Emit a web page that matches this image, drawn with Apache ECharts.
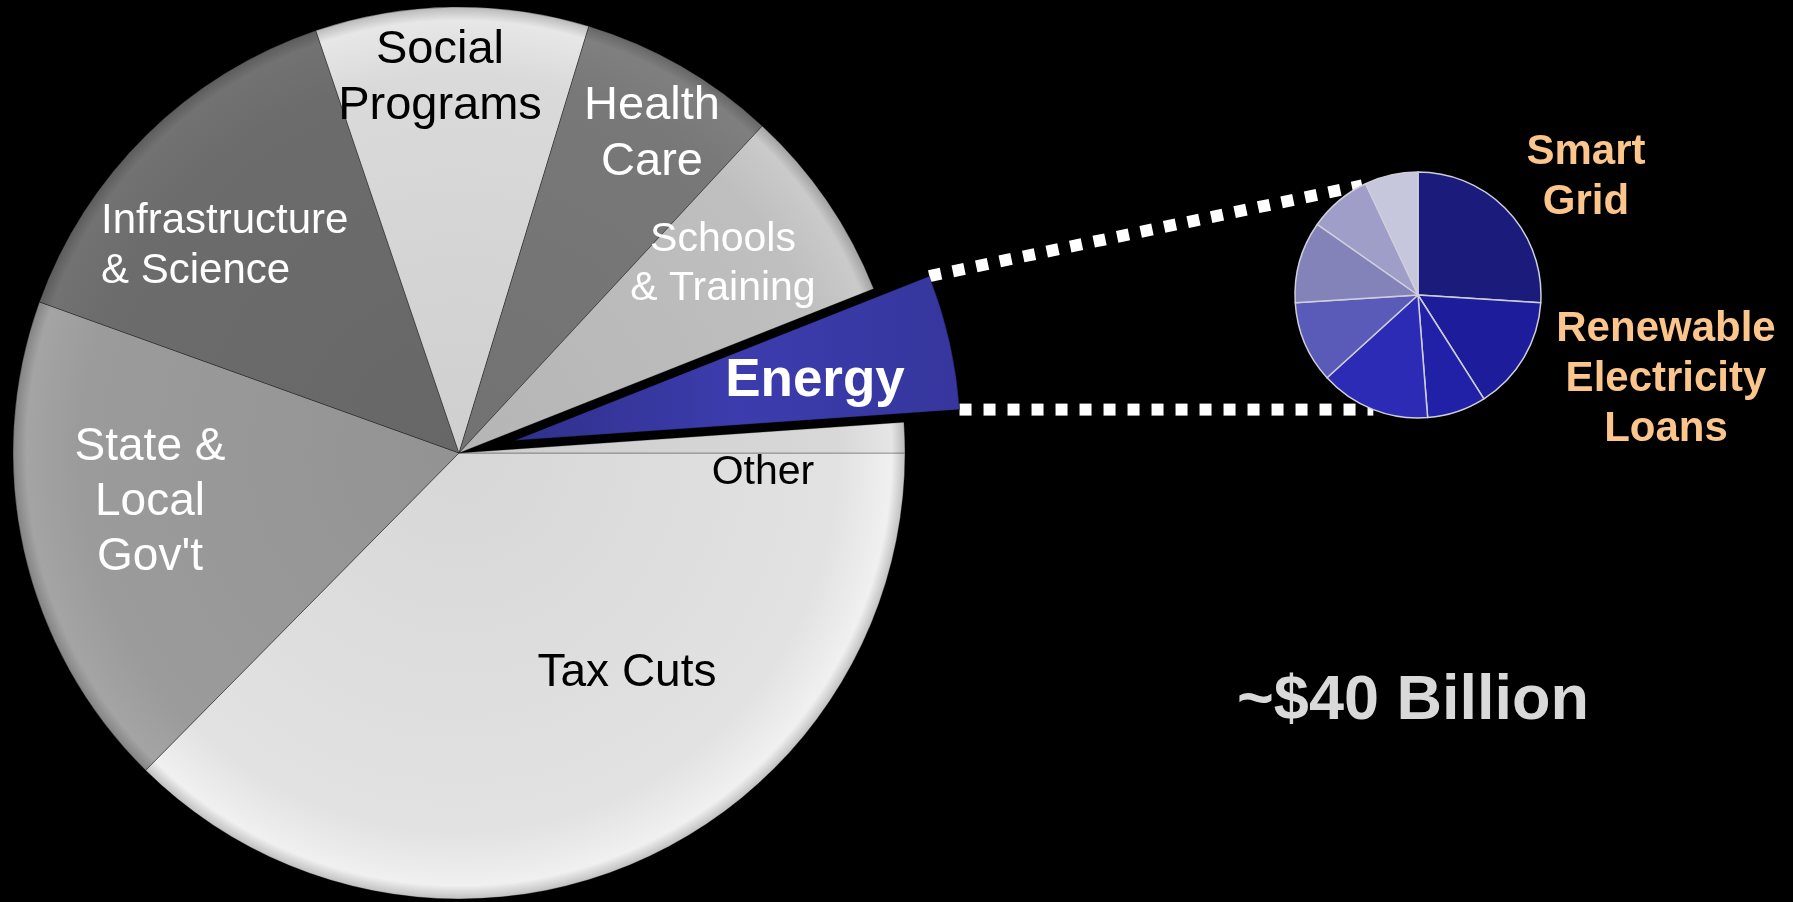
<!DOCTYPE html>
<html>
<head>
<meta charset="utf-8">
<script src="https://cdn.jsdelivr.net/npm/echarts@6/dist/echarts.min.js"></script>
<style>
  html, body { margin: 0; padding: 0; background: #000; }
  #chart { width: 1793px; height: 902px; }
</style>
</head>
<body>
<div id="chart"></div>
<script>
// main pie: share of the package (percent)
const mainNames = ['Tax Cuts', "State &\nLocal\nGov't", 'Infrastructure\n& Science', 'Social\nPrograms',
  'Health\nCare', 'Schools\n& Training', 'Energy', 'Other'];
const mainValues = [37.4, 18.1, 14.3, 9.9, 7.2, 7.1, 4.9, 1.1];

// energy breakdown (~$40 billion), clockwise from 12 o'clock
const energyNames = ['Smart\nGrid', 'Renewable\nElectricity\nLoans', 'Energy 3', 'Energy 4',
  'Energy 5', 'Energy 6', 'Energy 7', 'Energy 8'];
const energyValues = [10.4, 6.0, 3.1, 5.8, 4.3, 4.3, 3.3, 2.8];
const totalText = '~$40 Billion';

// styling
const mainColors = ['#e2e2e2', '#9b9b9b', '#6c6c6c', '#dadada', '#787878', '#bfbfbf', '#3c3cae', '#d8d8d8'];
const mainLabelColors = ['#000', '#fff', '#fff', '#000', '#fff', '#fff', '#fff', '#000'];
const mainLabelSizes = [46, 46, 42, 47, 47, 41, 53, 41];
const energyColors = ['#1b1b7c', '#1d1d9c', '#2121a8', '#2b2bb6', '#5a5ab8', '#8383ba', '#9e9ec8', '#c6c6dc'];

// label anchor points (px) and alignment
const mainLabelPos = [
  [627, 673, 'center'], [150, 502, 'center'], [101, 246, 'left'], [440, 78, 'center'],
  [652, 134, 'center'], [723, 264, 'center'], [815, 381, 'center'], [763, 473, 'center']
];
const energyLabelPos = [[1586, 177], [1666, 379]];

const C1 = [459, 453], R1 = 446, OFFSET = 57;
const C2 = [1418, 295], R2 = 123;
const FONT = "'Liberation Sans', Arial, sans-serif";

function shade(hex, f) {
  const n = parseInt(hex.slice(1), 16);
  const r = Math.round(((n >> 16) & 255) * f), g = Math.round(((n >> 8) & 255) * f), b = Math.round((n & 255) * f);
  return 'rgb(' + Math.min(r, 255) + ',' + Math.min(g, 255) + ',' + Math.min(b, 255) + ')';
}

const energyIdx = mainNames.indexOf('Energy');
const mainData = mainNames.map((name, i) => {
  const c = mainColors[i];
  const color = i === energyIdx
    ? { type: 'linear', x: 0, y: 0, x2: 1, y2: 0, colorStops: [{ offset: 0, color: shade(c, 0.8) }, { offset: 0.5, color: c }, { offset: 1, color: shade(c, 0.9) }] }
    : { type: 'radial', x: C1[0], y: C1[1], r: R1, global: true,
        colorStops: [{ offset: 0, color: shade(c, 0.95) }, { offset: 0.85, color: c }, { offset: 0.97, color: shade(c, 1.06) }, { offset: 1, color: shade(c, 0.85) }] };
  return {
    name: name,
    value: mainValues[i],
    selected: i === energyIdx,
    itemStyle: { color: color },
    // the exploded (selected) slice keeps its own label spot, so its label is drawn as a graphic below
    label: {
      show: i !== energyIdx,
      color: mainLabelColors[i],
      fontSize: mainLabelSizes[i],
      lineHeight: Math.round(mainLabelSizes[i] * 1.2)
    }
  };
});

const energyData = energyNames.map((name, i) => ({
  name: name,
  value: energyValues[i],
  itemStyle: { color: energyColors[i] },
  label: { show: i < energyLabelPos.length }
}));

// dotted connector geometry, derived from the main pie's data
const total = mainValues.reduce((a, b) => a + b, 0);
const before = mainValues.slice(0, energyIdx).reduce((a, b) => a + b, 0);
const a0 = before / total * 2 * Math.PI;
const a1 = (before + mainValues[energyIdx]) / total * 2 * Math.PI;
const am = (a0 + a1) / 2;
const ec = [C1[0] + OFFSET * Math.cos(am), C1[1] + OFFSET * Math.sin(am)];
const topStart = [ec[0] + R1 * Math.cos(a0), ec[1] + R1 * Math.sin(a0)];
const botStart = [ec[0] + R1 * Math.cos(a1), ec[1] + R1 * Math.sin(a1)];
const topAng = 243 / 180 * Math.PI;
const topEnd = [C2[0] + R2 * Math.cos(topAng), C2[1] + R2 * Math.sin(topAng)];
const dy = botStart[1] - C2[1];
const botEnd = [C2[0] - Math.sqrt(Math.max(R2 * R2 - dy * dy, 0)), botStart[1]];

const dotStyle = { stroke: '#fff', lineWidth: 12, lineDash: [12, 12], lineCap: 'butt' };
const ePos = mainLabelPos[energyIdx];

const chart = echarts.init(document.getElementById('chart'));
chart.setOption({
  backgroundColor: '#000',
  animation: false,
  graphic: [
    { type: 'line', z: 1, shape: { x1: topStart[0], y1: topStart[1], x2: topEnd[0], y2: topEnd[1] }, style: dotStyle },
    { type: 'line', z: 1, shape: { x1: botStart[0], y1: botStart[1], x2: botEnd[0], y2: botEnd[1] }, style: dotStyle },
    {
      type: 'text', x: ePos[0], y: ePos[1], z: 10,
      style: { text: mainNames[energyIdx], font: 'bold ' + mainLabelSizes[energyIdx] + 'px ' + FONT, fill: mainLabelColors[energyIdx],
        align: 'center', verticalAlign: 'middle', textAlign: 'center', textVerticalAlign: 'middle' }
    },
    {
      type: 'text', x: 1413, y: 702, z: 10,
      style: { text: totalText, font: 'bold 63px ' + FONT, fill: '#d9d9d9', align: 'center', verticalAlign: 'middle', textAlign: 'center', textVerticalAlign: 'middle' }
    }
  ],
  series: [
    {
      type: 'pie',
      silent: true,
      center: C1,
      radius: R1,
      startAngle: 0,
      clockwise: true,
      selectedMode: 'multiple',
      selectedOffset: OFFSET,
      select: { disabled: false, itemStyle: { borderColor: 'rgba(0,0,0,0.3)' } },
      emphasis: { disabled: true },
      itemStyle: { borderColor: 'rgba(0,0,0,0.3)', borderWidth: 1 },
      label: { show: true, position: 'inside', fontFamily: FONT },
      labelLine: { show: false },
      labelLayout: function (p) {
        const a = mainLabelPos[p.dataIndex];
        return { x: a[0], y: a[1], align: a[2], verticalAlign: 'middle' };
      },
      data: mainData
    },
    {
      type: 'pie',
      silent: true,
      center: C2,
      radius: R2,
      startAngle: 90,
      clockwise: true,
      emphasis: { disabled: true },
      itemStyle: { borderColor: '#cfcfdc', borderWidth: 1.5 },
      label: {
        show: true, position: 'inside', fontFamily: FONT, fontWeight: 'bold',
        fontSize: 42, lineHeight: 50, color: '#fbc58b'
      },
      labelLine: { show: false },
      labelLayout: function (p) {
        const a = energyLabelPos[p.dataIndex];
        if (!a) return {};
        return { x: a[0], y: a[1], align: 'center', verticalAlign: 'middle' };
      },
      data: energyData
    }
  ]
});
</script>
</body>
</html>
